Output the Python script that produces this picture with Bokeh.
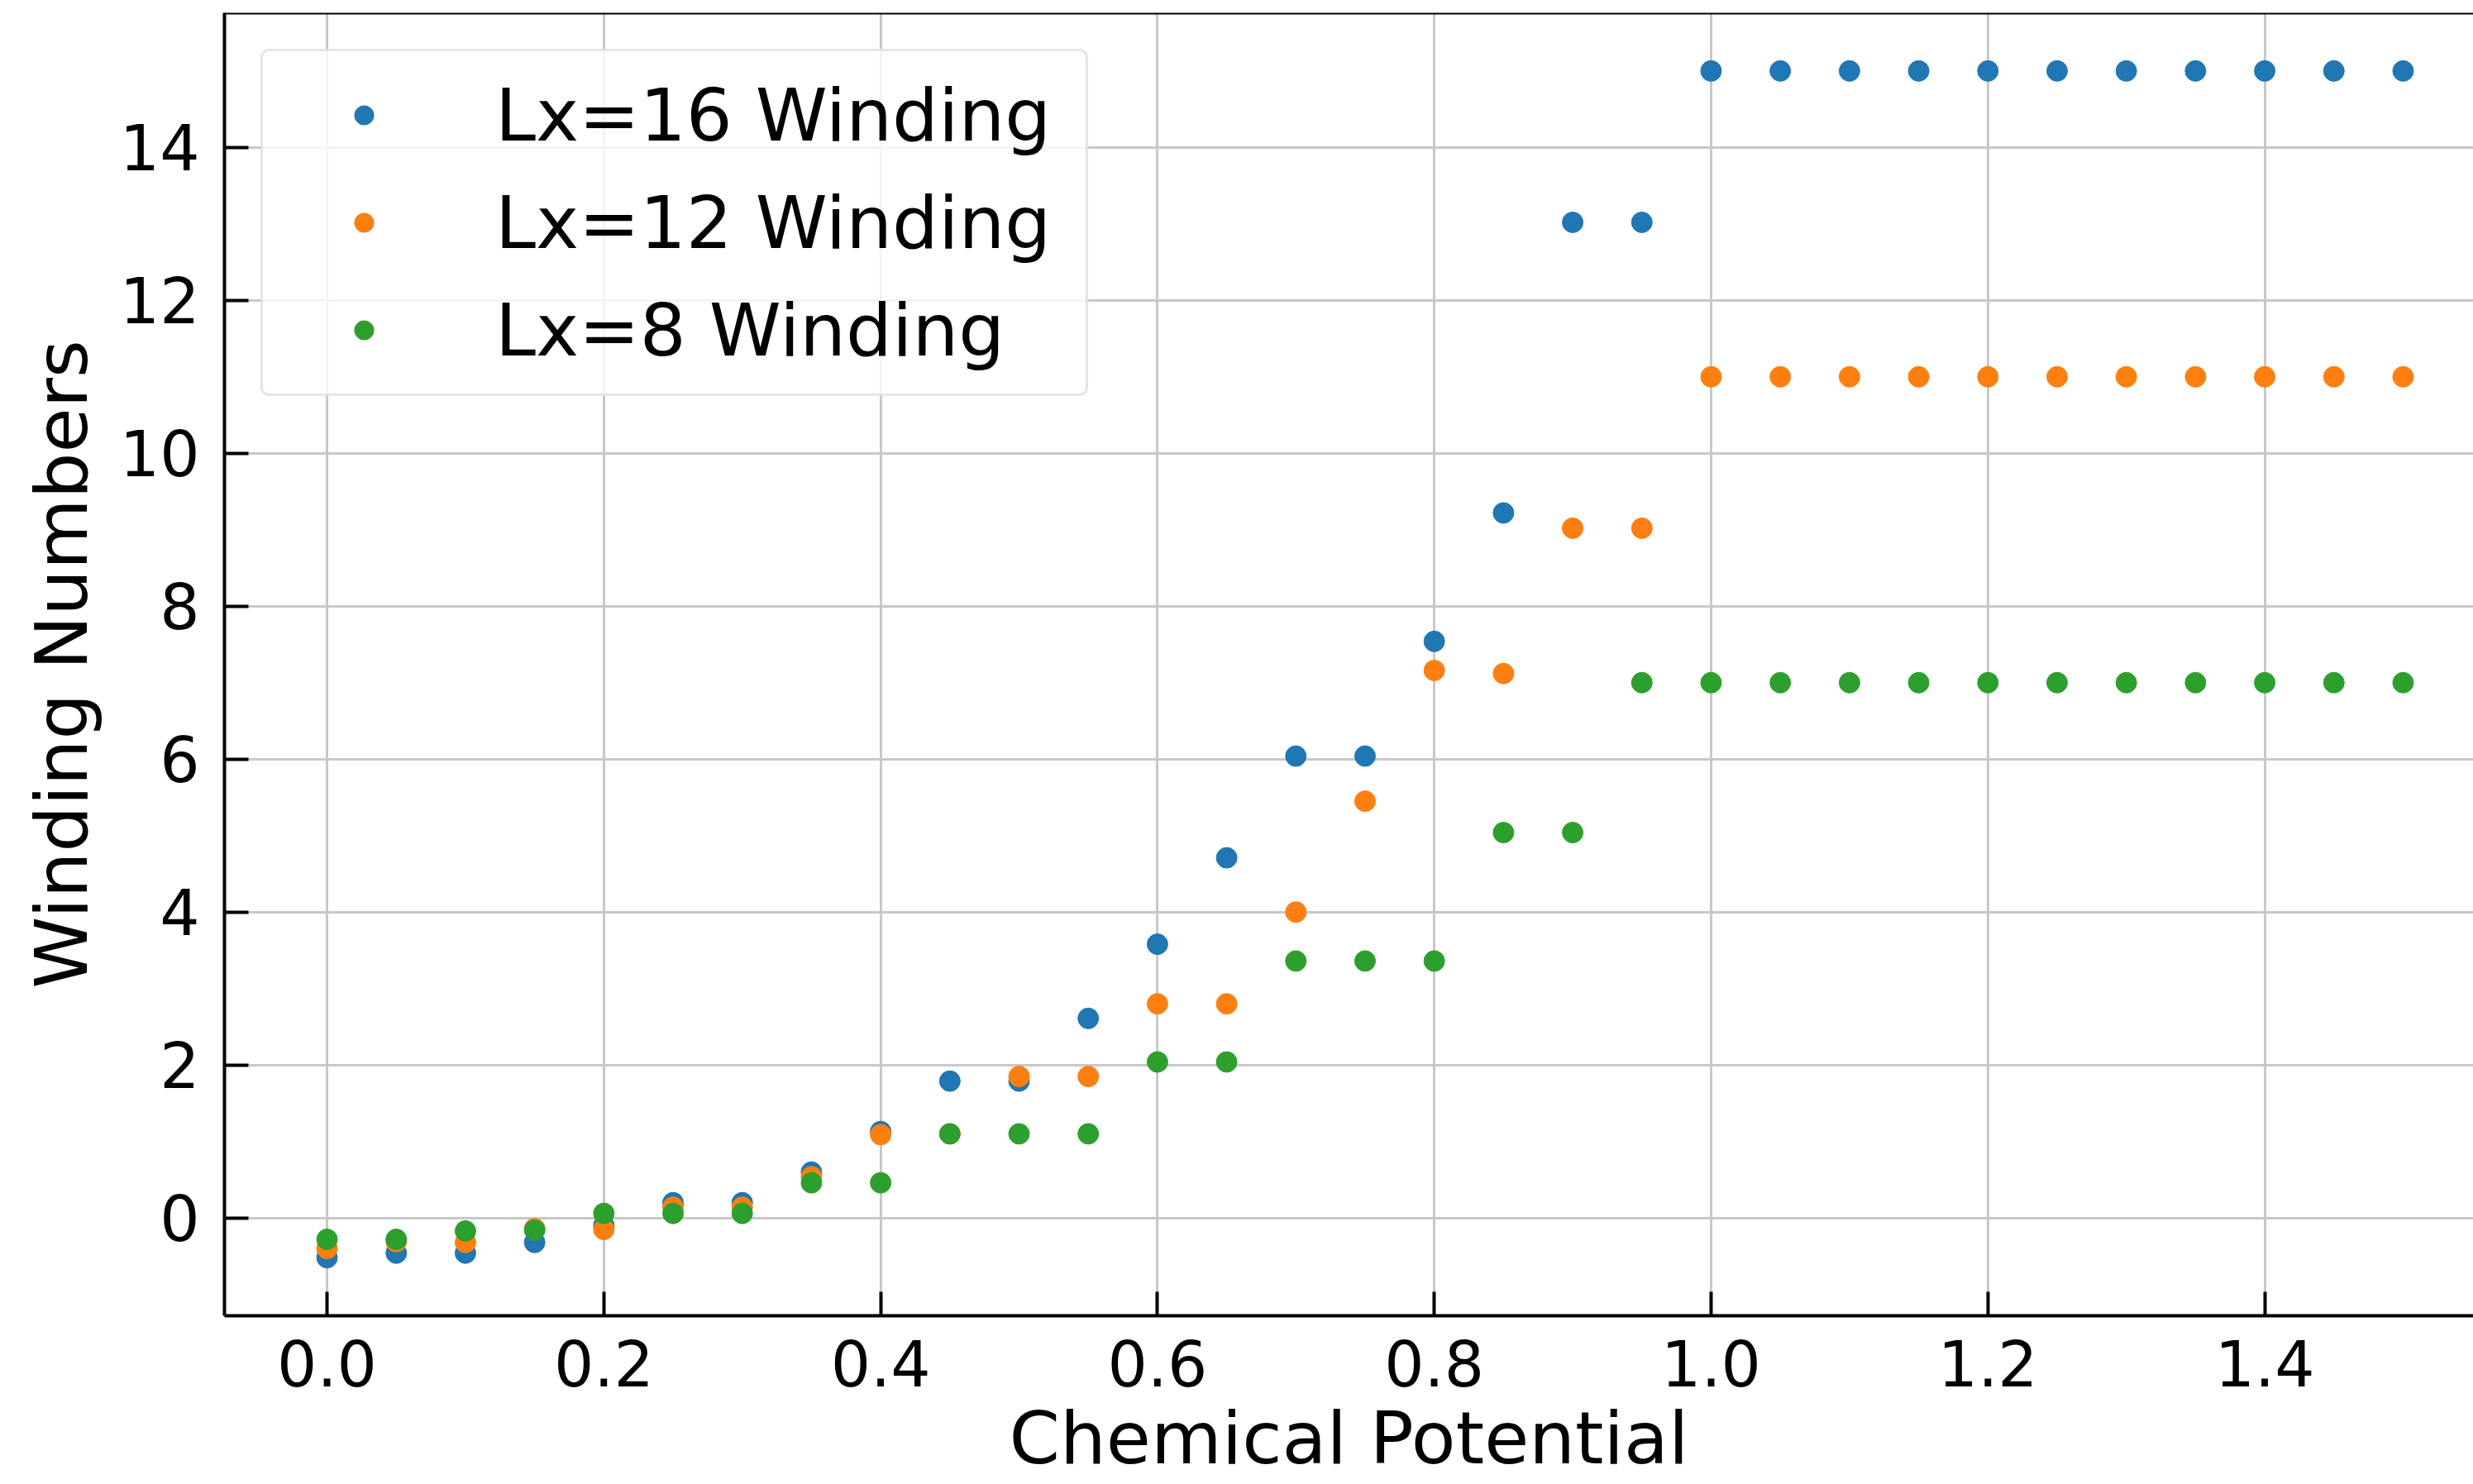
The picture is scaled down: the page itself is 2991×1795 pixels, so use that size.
from bokeh.plotting import figure
from bokeh.models import Range1d, FixedTicker, Span, NumeralTickFormatter
from bokeh.embed import file_html
from bokeh.resources import INLINE

# ---- data ----
mu = [0.0, 0.05, 0.1, 0.15, 0.2, 0.25, 0.3, 0.35, 0.4, 0.45,
      0.5, 0.55, 0.6, 0.65, 0.7, 0.75, 0.8, 0.85, 0.9, 0.95,
      1.0, 1.05, 1.1, 1.15, 1.2, 1.25, 1.3, 1.35, 1.4, 1.45, 1.5]

w_lx16 = [-0.52, -0.46, -0.46, -0.32, -0.10, 0.20, 0.20, 0.60, 1.13, 1.79,
          1.79, 2.61, 3.58, 4.71, 6.04, 6.04, 7.54, 9.22, 13.02, 13.02,
          15.0, 15.0, 15.0, 15.0, 15.0, 15.0, 15.0, 15.0, 15.0, 15.0, 15.0]

w_lx12 = [-0.40, -0.31, -0.32, -0.14, -0.15, 0.14, 0.14, 0.54, 1.09, 1.10,
          1.85, 1.85, 2.80, 2.80, 4.00, 5.45, 7.16, 7.12, 9.02, 9.02,
          11.0, 11.0, 11.0, 11.0, 11.0, 11.0, 11.0, 11.0, 11.0, 11.0, 11.0]

w_lx8 = [-0.28, -0.28, -0.17, -0.16, 0.06, 0.06, 0.06, 0.46, 0.46, 1.10,
         1.10, 1.10, 2.04, 2.04, 3.36, 3.36, 3.36, 5.04, 5.04, 7.0,
         7.0, 7.0, 7.0, 7.0, 7.0, 7.0, 7.0, 7.0, 7.0, 7.0, 7.0]

series_labels = ["Lx=16 Winding", "Lx=12 Winding", "Lx=8 Winding"]
series_colors = ["#1f77b4", "#ff7f0e", "#2ca02c"]

x_ticks = [0.0, 0.2, 0.4, 0.6, 0.8, 1.0, 1.2, 1.4]
y_ticks = [0, 2, 4, 6, 8, 10, 12, 14]

x_label = "Chemical Potential"
y_label = "Winding Numbers"

FONT = "DejaVu Sans"
Y_END = 15.76

p = figure(width=2991, height=1795,
           x_range=Range1d(-0.0741, 1.5508), y_range=Range1d(-1.279, Y_END),
           output_backend="svg", toolbar_location=None,
           min_border_left=271, min_border_right=0,
           min_border_top=15, min_border_bottom=204)

p.outline_line_color = None
p.background_fill_color = "white"

for ys, lab, col in zip([w_lx16, w_lx12, w_lx8], series_labels, series_colors):
    p.scatter(mu, ys, size=25, fill_color=col, line_color=col, legend_label=lab)

# axes
p.xaxis.ticker = FixedTicker(ticks=x_ticks)
p.yaxis.ticker = FixedTicker(ticks=y_ticks)
p.xaxis.formatter = NumeralTickFormatter(format="0.0")
p.yaxis.formatter = NumeralTickFormatter(format="0")
for ax in (p.xaxis, p.yaxis):
    ax.major_tick_in = 29
    ax.major_tick_out = 0
    ax.minor_tick_in = 0
    ax.minor_tick_out = 0
    ax.major_tick_line_width = 4
    ax.major_tick_line_color = "black"
    ax.axis_line_width = 4
    ax.axis_line_color = "black"
    ax.major_label_text_font = FONT
    ax.major_label_text_font_size = "76px"
    ax.major_label_text_color = "black"
    ax.axis_label_text_font = FONT
    ax.axis_label_text_font_size = "88px"
    ax.axis_label_text_font_style = "normal"
    ax.axis_label_text_color = "black"

p.xaxis.axis_label = x_label
p.xaxis.major_label_standoff = 29
p.xaxis.axis_label_standoff = 8
p.yaxis.axis_label = y_label
p.yaxis.major_label_standoff = 30
p.yaxis.axis_label_standoff = 16

# top spine
p.add_layout(Span(location=Y_END, dimension="width", line_color="black", line_width=4))

# grid
p.xgrid.ticker = FixedTicker(ticks=x_ticks)
p.ygrid.ticker = FixedTicker(ticks=y_ticks)
for g in (p.xgrid, p.ygrid):
    g.grid_line_color = "#c8c8c8"
    g.grid_line_width = 3

# legend
lg = p.legend[0]
lg.location = "top_left"
lg.margin = 44
lg.padding = 12
lg.spacing = 0
lg.glyph_width = 220
lg.glyph_height = 58
lg.label_height = 130
lg.label_width = 702
lg.label_standoff = 49
lg.label_text_font = FONT
lg.label_text_font_size = "88px"
lg.label_text_color = "black"
lg.border_line_color = "#cccccc"
lg.border_line_width = 3
lg.border_radius = 10
lg.background_fill_alpha = 0.8

open("out.html", "w").write(file_html(p, INLINE))
